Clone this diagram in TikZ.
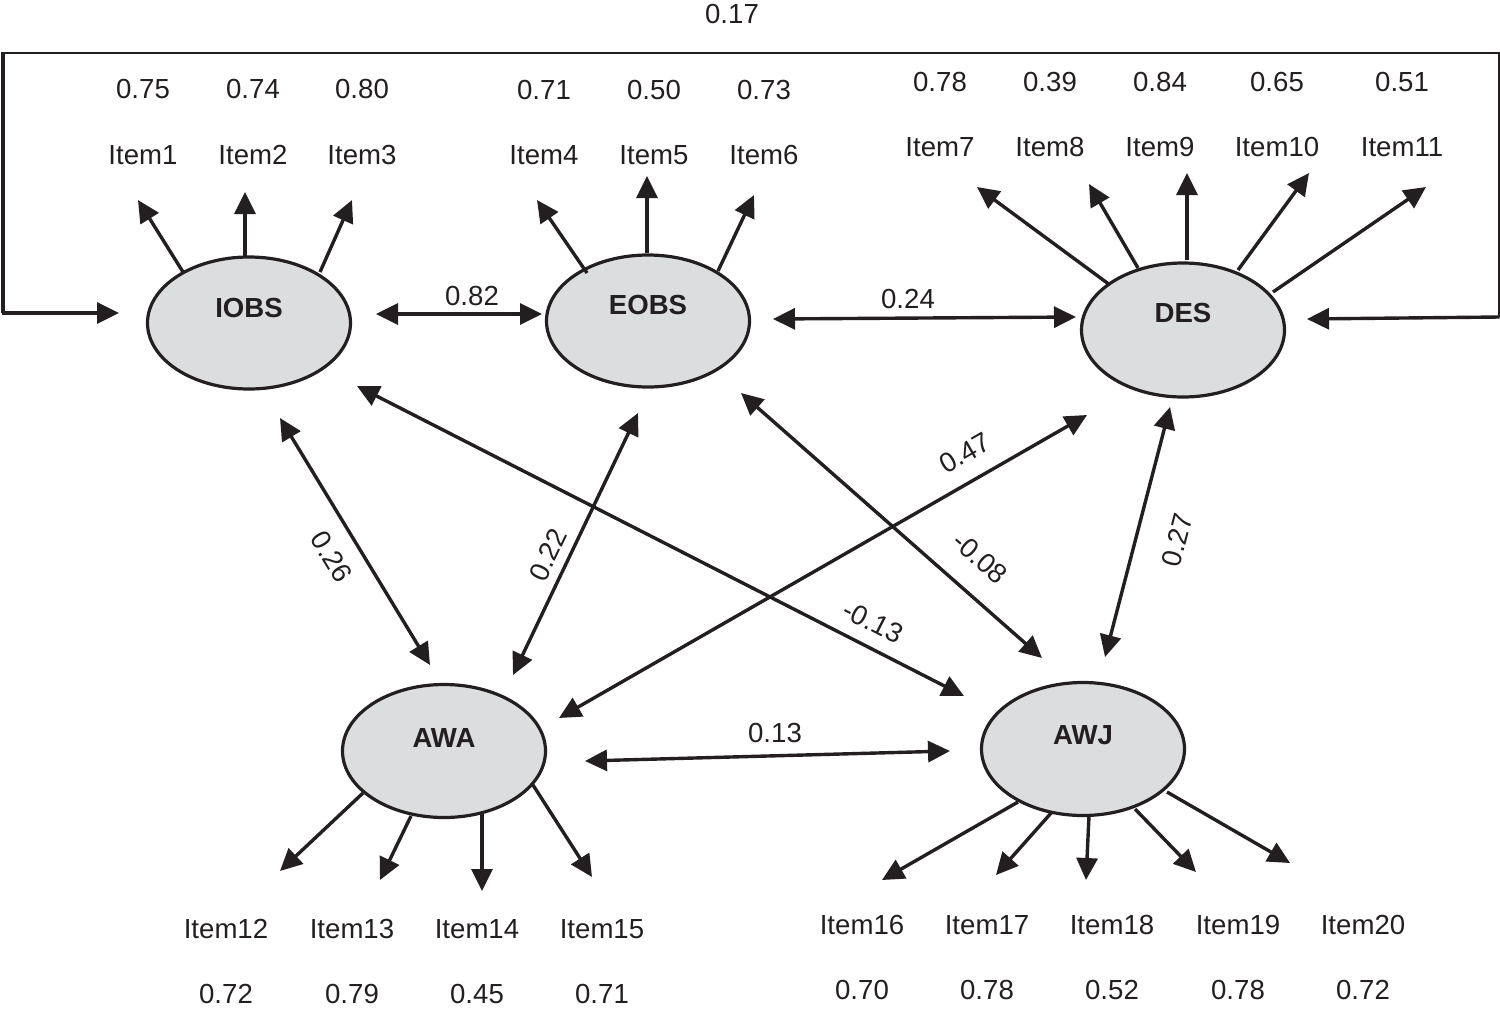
\documentclass[tikz,border=0pt]{standalone}
\usepackage{fontspec}
\setmainfont{Liberation Sans}
\usetikzlibrary{arrows.meta,shapes.geometric,calc}
\definecolor{ink}{RGB}{35,31,32}
\definecolor{latfill}{RGB}{220,221,223}
\tikzset{
  latent/.style={ellipse,draw=ink,fill=latfill,line width=1.6pt,
    minimum width=101.5pt,minimum height=66pt,inner sep=0pt},
  lattext/.style={font=\fontsize{13.8}{16}\selectfont\bfseries,text=ink},
  itm/.style={font=\fontsize{13.8}{16}\selectfont,text=ink,inner sep=0pt},
  onearrow/.style={draw=ink,line width=1.7pt,-{Triangle[length=11pt,width=10.5pt]}},
  twoarrow/.style={draw=ink,line width=1.7pt,{Triangle[length=11pt,width=10.5pt]}-{Triangle[length=11pt,width=10.5pt]}},
  thinline/.style={draw=ink,line width=1.1pt},
}
\begin{document}
\begin{tikzpicture}[x=0.5pt,y=-0.5pt]
\useasboundingbox (0,0) rectangle (1500,1013);
\fill[white] (0,0) rectangle (1500,1013);

% latent variables
\node[latent,label={[lattext,yshift=7.5pt]center:IOBS}] (IOBS) at (249,323) {};
\node[latent,minimum height=66pt,label={[lattext,yshift=8pt]center:EOBS}] (EOBS) at (648,321) {};
\node[latent,minimum height=67pt,label={[lattext,yshift=8.5pt]center:DES}] (DES) at (1183,330) {};
\node[latent,minimum height=66.5pt,label={[lattext,yshift=6.5pt]center:AWA}] (AWA) at (444,751) {};
\node[latent,minimum height=66.5pt,label={[lattext,yshift=7pt]center:AWJ}] (AWJ) at (1083,749) {};

% item labels and values
\foreach \n/\x/\y/\v/\vy in {1/143/155/0.75/89, 2/253/155/0.74/89, 3/362/155/0.80/89,
  4/544/155/0.71/90, 5/654/155/0.50/90, 6/764/155/0.73/90,
  7/940/147/0.78/82, 8/1050/147/0.39/82, 9/1160/147/0.84/82, 10/1277/147/0.65/82, 11/1402/147/0.51/82,
  12/226/929/0.72/994, 13/352/929/0.79/994, 14/477/929/0.45/994, 15/602/929/0.71/994,
  16/862/925/0.70/990, 17/987/925/0.78/990, 18/1112/925/0.52/990, 19/1238/925/0.78/990, 20/1363/925/0.72/990}{
  \node[itm] (t\n) at (\x,\y) {Item\n};
  \node[itm] (v\n) at (\x,\vy) {\v};
}

% arrow end points for item loadings
\foreach \n/\sx/\sy/\ex/\ey in {1/183/272/138/200, 2/245/257/245/192, 3/320/272/352/200,
  4/587/273/537/200, 5/647/253/647/176, 6/718/271/754/195,
  7/1110/285/977/187, 8/1138/268/1089/184, 9/1187/260/1187/173, 10/1238/270/1309/173, 11/1273/292/1426/187,
  12/363/793/280/871, 13/411/816/380/880, 14/482/813/482/891, 15/533/785/592/877,
  16/1018/802/882/880, 17/1052/812/996/875, 18/1089/816/1086/880, 19/1135/809/1196/872, 20/1167/792/1290/863}{
  \coordinate (s\n) at (\sx,\sy);
  \coordinate (e\n) at (\ex,\ey);
  \draw[onearrow] (s\n) -- (e\n);
}

% correlation arrows
\coordinate (a1) at (376,314); \coordinate (b1) at (542,314);
\draw[twoarrow] (a1) -- (b1);
\node[itm] (l082) at (472,296) {0.82};

\coordinate (a2) at (773,319); \coordinate (b2) at (1076,317);
\draw[twoarrow] (a2) -- (b2);
\node[itm] (l024) at (908,299) {0.24};

\coordinate (a3) at (585,761); \coordinate (b3) at (950,751);
\draw[twoarrow] (a3) -- (b3);
\node[itm] (l013) at (775,733) {0.13};

\coordinate (a4) at (280,418); \coordinate (b4) at (430,665);
\draw[twoarrow] (a4) -- (b4);
\node[itm,rotate=-58.7] (l026) at (332,557) {0.26};

\coordinate (a5) at (638,413); \coordinate (b5) at (513,675);
\draw[twoarrow] (a5) -- (b5);
\node[itm,rotate=64.5] (l022) at (548,555) {0.22};

\coordinate (a6) at (357,386); \coordinate (b6) at (964,696);
\draw[twoarrow] (a6) -- (b6);
\node[itm,rotate=-27] (lm013) at (873,622) {-0.13};

\coordinate (a7) at (741,393); \coordinate (b7) at (1042,658);
\draw[twoarrow] (a7) -- (b7);
\node[itm,rotate=-41.4] (lm008) at (980,558) {-0.08};

\coordinate (a8) at (559,718); \coordinate (b8) at (1087,415);
\draw[twoarrow] (a8) -- (b8);
\node[itm,rotate=29.9] (l047) at (965,453) {0.47};

\coordinate (a9) at (1170,407); \coordinate (b9) at (1105,657);
\draw[twoarrow] (a9) -- (b9);
\node[itm,rotate=75.4] (l027) at (1177,540) {0.27};

% feedback bracket IOBS -- DES (0.17)
\coordinate (fL) at (3,313);
\coordinate (fR) at (1499,317);
\coordinate (fTL) at (3,53);
\coordinate (fTR) at (1499,53);
\coordinate (iIn) at (119,313);
\coordinate (dIn) at (1307,319);
\draw[thinline,line join=miter] (fL) -- (fTL) -- (fTR) -- (fR);
\draw[draw=ink,line width=1.6pt] (fL) -- ($(fTL)+(0,-1)$);
\draw[onearrow] ($(fL)+(-1,0)$) -- (iIn);
\draw[onearrow] ($(fR)+(0.5,0)$) -- (dIn);
\node[itm] (l017) at (732,14) {0.17};
\end{tikzpicture}
\end{document}
